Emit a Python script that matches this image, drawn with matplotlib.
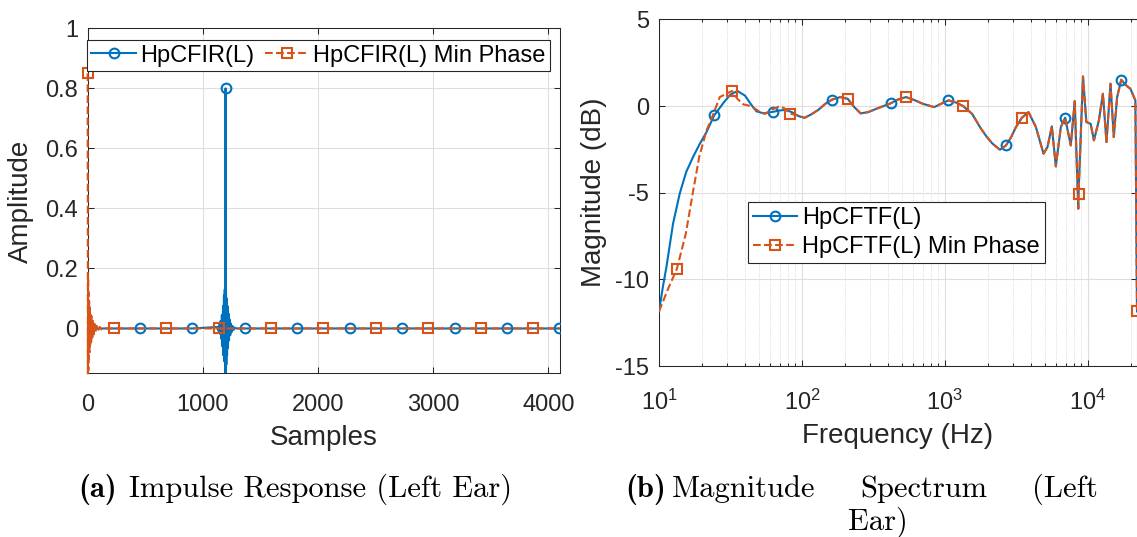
import matplotlib
matplotlib.use("Agg")
import matplotlib.pyplot as plt
from matplotlib.ticker import FixedLocator, FuncFormatter, LogLocator, NullFormatter

plt.rcParams['font.family'] = ['Liberation Sans', 'DejaVu Sans']
plt.rcParams['mathtext.fontset'] = 'custom'
plt.rcParams['mathtext.rm'] = 'Liberation Sans'
plt.rcParams['axes.unicode_minus'] = False

BLUE = '#0072BD'
ORANGE = '#D95319'
INK = '#262626'

# (a) impulse responses -- key samples, everything else is zero
ir_n = [0, 455, 910, 1130, 1136, 1142, 1148, 1154, 1160, 1165, 1170, 1175, 1179, 1183, 1187,
        1190, 1193, 1195, 1197, 1199, 1201, 1204, 1207, 1210, 1214, 1218, 1222, 1227, 1232,
        1238, 1244, 1250, 1257, 1265, 1275, 1290, 1365, 1820, 2275, 2730, 3185, 3640, 4095]
ir_amp = [0, 0, 0, 0.005, -0.008, 0.012, -0.018, 0.025, -0.035, 0.045, -0.06, 0.075, -0.09, 0.11, -0.11,
          0.13, -0.12, -0.22, 0.8, -0.22, 0.12, -0.12, 0.1, -0.09, 0.075, -0.065, 0.05, -0.04, 0.03,
          -0.022, 0.016, -0.012, 0.008, -0.005, 0.003, 0, 0, 0, 0, 0, 0, 0, 0]
ir_markers = [0, 455, 910, 1197, 1365, 1820, 2275, 2730, 3185, 3640, 4095]

mp_n = [0, 2, 4, 6, 8, 10, 13, 16, 19, 22, 26, 30, 35, 40, 46, 52, 60, 68, 78, 90, 104, 120,
        140, 170, 227, 682, 1137, 1592, 2047, 2502, 2957, 3412, 3867, 4095]
mp_amp = [0.85, -0.15, 0.17, -0.14, 0.12, -0.1, 0.09, -0.08, 0.07, -0.06, 0.05, -0.045, 0.04,
          -0.03, 0.025, -0.02, 0.015, -0.012, 0.009, -0.007, 0.005, -0.003, 0.002, 0,
          0, 0, 0, 0, 0, 0, 0, 0, 0, 0]
mp_markers = [0, 227, 682, 1137, 1592, 2047, 2502, 2957, 3412, 3867]

# (b) magnitude responses in dB
tf_f_low = [10, 10.66, 11.27, 12.54, 13.96, 15.5, 17.3, 19.3, 21.5, 24.3, 28.5, 31.5, 35.4, 40,
            44, 48, 54, 63, 70, 77, 85, 95, 104]
tf_db_low = [-11.85, -10.4, -9.28, -6.78, -5.05, -3.8, -2.94, -2.17, -1.5, -0.54, 0.23, 0.65, 0.87, 0.6,
             0.1, -0.3, -0.42, -0.33, -0.25, -0.22, -0.35, -0.58, -0.68]
mp_f_low = [10, 11.5, 13.35, 15.4, 17.2, 19.1, 21.5, 23.3, 26.6, 32.4, 35.5, 38.9, 44, 50, 55,
            62, 70, 76, 83, 95, 104]
mp_db_low = [-11.85, -10.6, -9.38, -7.36, -5.05, -2.94, -1.4, -0.73, 0.52, 0.87, 0.4, 0.1, 0.0,
             -0.3, -0.45, -0.2, 0.0, -0.15, -0.44, -0.55, -0.68]
# above ~110 Hz both curves lie on top of each other
f_high = [115, 130, 145, 162, 185, 209, 231, 257, 290, 340, 420, 470, 534, 610, 697, 841, 950,
          1059, 1200, 1341, 1550, 1757, 1950, 2152, 2425, 2672, 2900, 3139, 3455, 3845, 4327,
          4893, 5218, 5594, 5966, 6466, 6929, 7590, 8090, 8560, 8600, 9240, 9750, 10450, 11020,
          11940, 12730, 13490, 14390, 15170, 16000, 17100, 18500, 19820, 21480, 22050]
db_high = [-0.5, -0.22, 0.12, 0.37, 0.52, 0.42, -0.04, -0.42, -0.35, -0.12, 0.17, 0.38, 0.52,
           0.35, 0.14, -0.06, 0.15, 0.33, 0.2, 0.0, -0.45, -1.21, -1.75, -2.17, -2.52, -2.27,
           -1.8, -1.21, -0.67, -0.35, -1.21, -2.75, -2.36, -1.17, -3.48, -1.21, -0.67, -2.27,
           0.29, -5.92, -5.07, 1.71, -0.92, -1.02, -1.98, -0.82, 0.71, -2.08, 1.29, -1.79, 0.5,
           1.52, 1.2, 1.0, 0.33, -11.85]
tf_markers = [24.3, 63, 162, 420, 1059, 2672, 6929, 17100]
mp_f_markers = [13.35, 32.4, 83, 209, 534, 1341, 3455, 8600, 22050]

tf_f = tf_f_low + f_high
tf_db = tf_db_low + db_high
mpf_f = mp_f_low + f_high
mpf_db = mp_db_low + db_high

fig = plt.figure(figsize=(11.37, 5.37), dpi=100)
ax1 = fig.add_axes([0.0771, 0.3045, 0.4150, 0.6428])
ax2 = fig.add_axes([0.5796, 0.3184, 0.4204, 0.6454])


def style_axes(ax):
    ax.set_axisbelow(True)
    for sp in ax.spines.values():
        sp.set_color(INK)
        sp.set_linewidth(0.75)
    ax.tick_params(which='both', direction='in', top=True, right=True,
                   color=INK, labelcolor=INK, labelsize=17, width=0.75)
    ax.tick_params(which='major', length=4)
    ax.tick_params(which='minor', length=2.5)
    ax.tick_params(axis='y', pad=7)
    ax.grid(True, which='major', color='#DEDEDE', lw=0.8)


# ---- (a) impulse response
style_axes(ax1)
ax1.tick_params(axis='x', pad=15)
ax1.plot(ir_n, ir_amp, color=BLUE, lw=1.5, marker='o', ms=7, mfc='none', mew=1.5, zorder=3,
         markevery=[ir_n.index(n) for n in ir_markers], label='HpCFIR(L)')
ax1.plot(mp_n, mp_amp, color=ORANGE, lw=1.5, ls='--', marker='s', ms=6.5, mfc='none', mew=1.5,
         zorder=3, clip_on=False, markevery=[mp_n.index(n) for n in mp_markers],
         label='HpCFIR(L) Min Phase')
ax1.set_xlim(0, 4096)
ax1.set_ylim(-0.15, 1)
ax1.xaxis.set_major_locator(FixedLocator([0, 1000, 2000, 3000, 4000]))
ax1.yaxis.set_major_locator(FixedLocator([0, 0.2, 0.4, 0.6, 0.8, 1]))
ax1.yaxis.set_major_formatter(FuncFormatter(lambda v, p: '%g' % v))
ax1.set_xlabel('Samples', fontsize=20, color=INK, labelpad=6)
ax1.set_ylabel('Amplitude', fontsize=20, color=INK, labelpad=8)
leg1 = ax1.legend(ncol=2, loc='upper left', bbox_to_anchor=(-0.002, 0.966), borderaxespad=0,
                  fontsize=17, fancybox=False, framealpha=1, edgecolor=INK, handlelength=1.9,
                  handletextpad=0.15, columnspacing=0.45, borderpad=0.2)
leg1.get_frame().set_linewidth(0.8)
leg1.set_zorder(5)

# ---- (b) magnitude spectrum
style_axes(ax2)
ax2.set_xscale('log')
ax2.tick_params(axis='x', pad=17)
ax2.plot(tf_f, tf_db, color=BLUE, lw=1.5, marker='o', ms=7, mfc='none', mew=1.5, zorder=3,
         markevery=[tf_f.index(f) for f in tf_markers], label='HpCFTF(L)')
ax2.plot(mpf_f, mpf_db, color=ORANGE, lw=1.5, ls='--', marker='s', ms=6.5, mfc='none', mew=1.5,
         zorder=3, markevery=[mpf_f.index(f) for f in mp_f_markers], label='HpCFTF(L) Min Phase')
ax2.set_xlim(10, 22050)
ax2.set_ylim(-15, 5)
ax2.xaxis.set_major_locator(FixedLocator([10, 100, 1000, 10000]))
ax2.xaxis.set_minor_locator(LogLocator(base=10, subs=range(2, 10)))
ax2.xaxis.set_minor_formatter(NullFormatter())
ax2.yaxis.set_major_locator(FixedLocator([-15, -10, -5, 0, 5]))
ax2.yaxis.set_major_formatter(FuncFormatter(lambda v, p: '%g' % v))
ax2.grid(True, which='minor', axis='x', color='#CFCFCF', lw=0.6, ls=':')
ax2.set_xlabel('Frequency (Hz)', fontsize=20, color=INK, labelpad=6)
ax2.set_ylabel('Magnitude (dB)', fontsize=20, color=INK, labelpad=6)
leg2 = ax2.legend(loc='upper left', bbox_to_anchor=(0.186, 0.473), borderaxespad=0,
                  fontsize=17, fancybox=False, framealpha=1, edgecolor=INK, handlelength=1.9,
                  handletextpad=0.2, borderpad=0.2, labelspacing=0.3)
leg2.get_frame().set_linewidth(0.8)
leg2.set_zorder(5)

# ---- sub-captions
W, H = 1137.0, 537.0
cap = dict(fontsize=22, color='black', va='baseline')
fig.text(78 / W, 1 - 497 / H, '(a)', family='cmb10', ha='left', **cap)
fig.text(512 / W, 1 - 497 / H, 'Impulse Response (Left Ear)', family='cmr10', ha='right', **cap)
fig.text(625 / W, 1 - 497 / H, '(b)', family='cmb10', ha='left', **cap)
fig.text(672 / W, 1 - 497 / H, 'Magnitude', family='cmr10', ha='left', **cap)
fig.text(860 / W, 1 - 497 / H, 'Spectrum', family='cmr10', ha='left', **cap)
fig.text(1098 / W, 1 - 497 / H, '(Left', family='cmr10', ha='right', **cap)
fig.text(878 / W, 1 - 530 / H, 'Ear)', family='cmr10', ha='center', **cap)

fig.savefig('out.png', dpi=100)
